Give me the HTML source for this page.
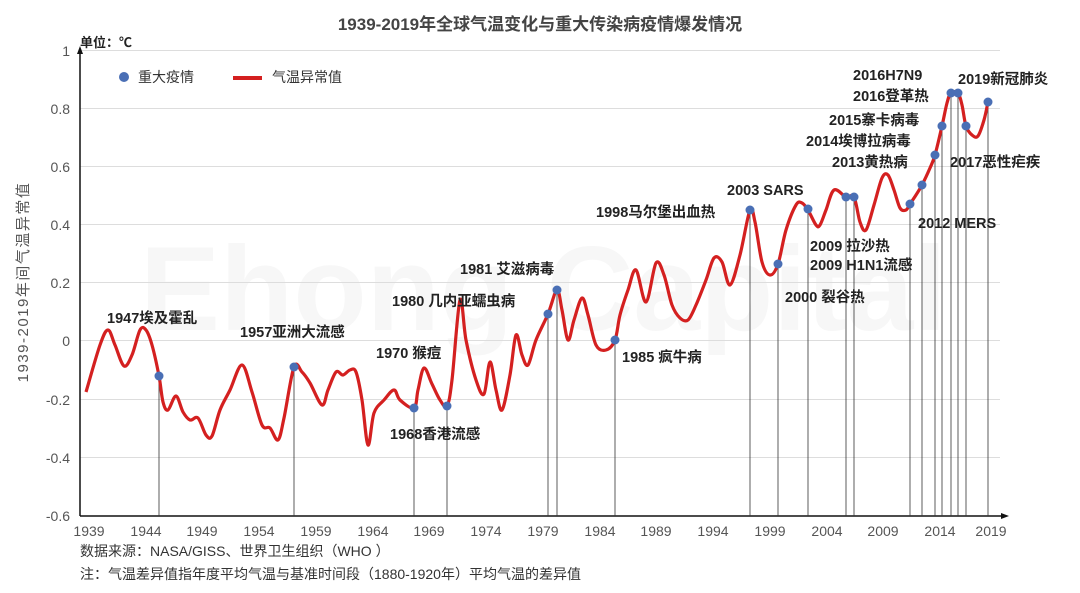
<!DOCTYPE html>
<html><head><meta charset="utf-8"><style>
body{margin:0;background:#fff;}
svg{display:block;font-family:"Liberation Sans","Noto Sans CJK SC",sans-serif;}
.lb{font-size:14.5px;fill:#222;font-weight:bold;}
.yt{font-size:14px;fill:#555;}
</style></head><body>
<svg id="s" width="1080" height="593" viewBox="0 0 1080 593">
<text x="540" y="30" text-anchor="middle" font-size="17" fill="#444" font-weight="bold">1939-2019年全球气温变化与重大传染病疫情爆发情况</text>
<text x="140" y="330" font-size="120" fill="#f7f7f7" font-weight="bold">Ehong Capital</text>
<g stroke="#ddd" stroke-width="1">
<line x1="80" y1="50.5" x2="1000" y2="50.5"/><line x1="80" y1="108.5" x2="1000" y2="108.5"/>
<line x1="80" y1="166.5" x2="1000" y2="166.5"/><line x1="80" y1="224.5" x2="1000" y2="224.5"/>
<line x1="80" y1="282.5" x2="1000" y2="282.5"/><line x1="80" y1="340.5" x2="1000" y2="340.5"/>
<line x1="80" y1="399.5" x2="1000" y2="399.5"/><line x1="80" y1="457.5" x2="1000" y2="457.5"/>
</g>
<g class="yt" text-anchor="end">
<text x="70" y="56">1</text><text x="70" y="114">0.8</text><text x="70" y="172">0.6</text>
<text x="70" y="230">0.4</text><text x="70" y="288">0.2</text><text x="70" y="346">0</text>
<text x="70" y="405">-0.2</text><text x="70" y="463">-0.4</text><text x="70" y="521">-0.6</text>
</g>
<text transform="translate(28,282) rotate(-90)" text-anchor="middle" font-size="15" letter-spacing="1.5" fill="#555">1939-2019年间气温异常值</text>
<text x="80" y="47" font-size="13" font-weight="bold" fill="#222">单位：℃</text>
<line x1="80" y1="516" x2="80" y2="52" stroke="#111" stroke-width="1.5"/>
<polygon points="80,46 77,54 83,54" fill="#111"/>
<line x1="80" y1="516" x2="1003" y2="516" stroke="#111" stroke-width="1.5"/>
<polygon points="1009,516 1001,513 1001,519" fill="#111"/>
<g class="yt" font-size="13" text-anchor="middle" fill="#555">
<text x="89" y="536">1939</text><text x="146" y="536">1944</text><text x="202" y="536">1949</text>
<text x="259" y="536">1954</text><text x="316" y="536">1959</text><text x="373" y="536">1964</text>
<text x="429" y="536">1969</text><text x="486" y="536">1974</text><text x="543" y="536">1979</text>
<text x="600" y="536">1984</text><text x="656" y="536">1989</text><text x="713" y="536">1994</text>
<text x="770" y="536">1999</text><text x="827" y="536">2004</text><text x="883" y="536">2009</text>
<text x="940" y="536">2014</text><text x="991" y="536">2019</text>
</g>
<g id="vl" stroke="#333" stroke-width="0.8"></g>
<path id="curve" fill="none" stroke="#d42020" stroke-width="3.2"/>
<g id="dots" fill="#4a6fb5"></g>
<circle cx="124" cy="77" r="5" fill="#4a6fb5"/>
<text x="138" y="82" font-size="14" fill="#333">重大疫情</text>
<line x1="233" y1="78" x2="262" y2="78" stroke="#d42020" stroke-width="4"/>
<text x="272" y="82" font-size="14" fill="#333">气温异常值</text>
<g class="lb">
<text x="107" y="323">1947埃及霍乱</text>
<text x="240" y="337">1957亚洲大流感</text>
<text x="376" y="358">1970 猴痘</text>
<text x="390" y="439">1968香港流感</text>
<text x="392" y="306">1980 几内亚蠕虫病</text>
<text x="460" y="274">1981 艾滋病毒</text>
<text x="622" y="362">1985 疯牛病</text>
<text x="596" y="217">1998马尔堡出血热</text>
<text x="727" y="195">2003 SARS</text>
<text x="785" y="302">2000 裂谷热</text>
<text x="810" y="251">2009 拉沙热</text>
<text x="810" y="270">2009 H1N1流感</text>
<text x="918" y="228">2012 MERS</text>
<text x="832" y="167">2013黄热病</text>
<text x="806" y="146">2014埃博拉病毒</text>
<text x="829" y="125">2015寨卡病毒</text>
<text x="853" y="101">2016登革热</text>
<text x="853" y="80">2016H7N9</text>
<text x="958" y="84">2019新冠肺炎</text>
<text x="950" y="167">2017恶性疟疾</text>
</g>
<text x="80" y="556" font-size="14" fill="#333">数据来源：NASA/GISS、世界卫生组织（WHO  ）</text>
<text x="80" y="579" font-size="14" fill="#333">注：气温差异值指年度平均气温与基准时间段（1880-1920年）平均气温的差异值</text>
</svg>
<script>
var p=[[86,392],[100,345],[108,330],[115,345],[124,366],[132,355],[140,330],[146,330],[152,345],[159,376],[163,402],[168,410],[176,396],[183,412],[190,420],[198,418],[206,435],[212,436],[220,410],[230,390],[242,365],[252,392],[262,425],[270,428],[278,440],[284,418],[294,367],[302,372],[310,383],[322,405],[328,390],[336,372],[343,375],[350,370],[356,372],[362,400],[368,445],[374,413],[384,400],[394,390],[400,400],[414,408],[418,390],[424,368],[432,384],[440,400],[447,406],[452,380],[460,300],[466,340],[476,380],[484,394],[490,362],[496,390],[502,410],[510,375],[516,335],[522,355],[528,365],[536,340],[548,314],[557,290],[562,310],[568,340],[574,320],[582,298],[588,315],[596,345],[606,350],[615,340],[620,315],[628,290],[636,270],[646,302],[656,263],[664,275],[672,305],[680,318],[688,320],[696,305],[706,280],[714,258],[722,262],[730,285],[740,255],[750,210],[755,222],[762,262],[770,275],[778,264],[786,230],[796,205],[802,203],[808,210],[816,225],[820,225],[826,210],[834,190],[846,197],[854,197],[860,222],[866,230],[874,205],[882,178],[888,175],[894,190],[900,208],[906,210],[910,204],[916,195],[922,185],[930,168],[935,155],[942,126],[947,103],[951,93],[958,93],[962,105],[966,126],[972,135],[978,136],[984,120],[988,102]];
var d="M"+p[0][0]+","+p[0][1];
for(var i=0;i<p.length-1;i++){var a=p[i-1]||p[i],b=p[i],c=p[i+1],e=p[i+2]||c;
d+=" C"+(b[0]+(c[0]-a[0])/6)+","+(b[1]+(c[1]-a[1])/6)+" "+(c[0]-(e[0]-b[0])/6)+","+(c[1]-(e[1]-b[1])/6)+" "+c[0]+","+c[1];}
document.getElementById("curve").setAttribute("d",d);
var dots=[[159,376],[294,367],[414,408],[447,406],[548,314],[557,290],[615,340],[750,210],[778,264],[808,209],[846,197],[854,197],[910,204],[922,185],[935,155],[942,126],[951,93],[958,93],[966,126],[988,102]];
var ns="http://www.w3.org/2000/svg",g=document.getElementById("dots"),v=document.getElementById("vl");
dots.forEach(function(q){var c=document.createElementNS(ns,"circle");c.setAttribute("cx",q[0]);c.setAttribute("cy",q[1]);c.setAttribute("r",4.5);g.appendChild(c);
var l=document.createElementNS(ns,"line");l.setAttribute("x1",q[0]);l.setAttribute("x2",q[0]);l.setAttribute("y1",q[1]);l.setAttribute("y2",516);v.appendChild(l);});
</script>
</body></html>
